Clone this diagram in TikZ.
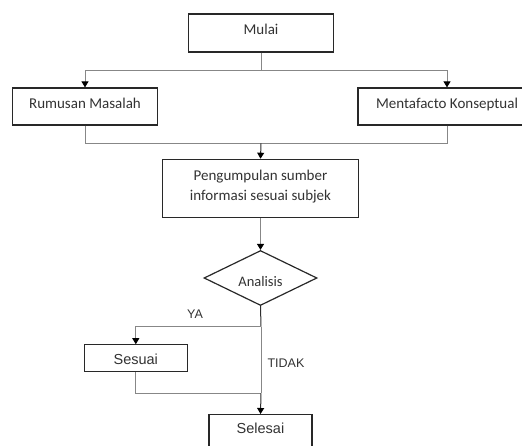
\documentclass[tikz,border=0pt]{standalone}
\usepackage{fontspec}
\setmainfont{Carlito}
\newfontfamily\arialf{Liberation Sans}
\usetikzlibrary{arrows.meta,shapes.geometric}
\definecolor{connc}{RGB}{135,135,135}
\definecolor{darkc}{RGB}{45,45,45}
\definecolor{edgec}{RGB}{40,40,40}
\definecolor{txtc}{RGB}{50,50,50}
\begin{document}
\begin{tikzpicture}[x=1pt,y=-1pt,
  box/.style={draw=edgec, line width=1.2pt, rectangle, inner sep=0pt, text=txtc,
    font=\fontsize{15}{20}\selectfont},
  cbox/.style={box, text depth=7pt},
  abox/.style={box, font=\arialf\fontsize{14.5}{18}\selectfont},
  dia/.style={shape=diamond, draw=edgec, line width=1.2pt, inner sep=0pt, aspect=2.05,
    minimum width=113pt, minimum height=55pt, text=txtc, text height=18pt,
    font=\fontsize{14.5}{18}\selectfont},
  lbl/.style={text=txtc, inner sep=0pt, font=\arialf\fontsize{12.5}{15}\selectfont},
  conn/.style={draw=connc, line width=0.9pt},
  dconn/.style={draw=darkc, line width=1pt},
  tip/.style={-{Triangle[width=7pt,length=6pt,color=black]}}]
\useasboundingbox (0,0) rectangle (522,446);
\clip (0,0) rectangle (522,446);

\node[cbox, minimum width=145pt, minimum height=38pt] (mulai) at (261,33) {Mulai};
\node[cbox, minimum width=145pt, minimum height=37pt] (rumusan) at (85,106.5) {Rumusan Masalah};
\node[cbox, minimum width=178pt, minimum height=37pt] (menta) at (447,106.5) {Mentafacto Konseptual};
\node[box, minimum width=196pt, minimum height=58pt, align=center] (peng) at (260.5,188.3) {Pengumpulan sumber\\informasi sesuai subjek\\[-14pt]};
\node[dia] (analisis) at (260.5,278) {Analisis};
\node[abox, minimum width=103pt, minimum height=27pt, text height=13pt] (sesuai) at (135.8,358.3) {Sesuai};
\node[box, minimum width=103pt, minimum height=44pt, anchor=north] (selesai) at (260.5,414) {};
\node[lbl, font=\arialf\fontsize{14.5}{18}\selectfont] (selesaitxt) at (260.5,428.5) {Selesai};

\coordinate (split) at (261,70);
\coordinate (merge) at (261,143.3);
\coordinate (branch) at (261,326.7);
\coordinate (join) at (261,393.3);

\draw[conn] (mulai.south) -- (split);
\draw[conn, tip] (split) -| (rumusan.north);
\draw[conn, tip] (split) -| (menta.north);
\draw[conn] (rumusan.south) |- (merge);
\draw[conn] (menta.south) |- (merge);
\draw[dconn, tip] (merge) -- (peng.north);
\draw[conn, tip] (peng.south) -- (analisis.north);
\draw[dconn] (analisis.south) -- (branch);
\draw[conn, tip] (branch) -| (sesuai.north);
\draw[conn] (branch) -- (join);
\draw[conn] (sesuai.south) |- (join);
\draw[dconn, tip] (join) -- (selesai.north);

\node[lbl] (ya) at (195,314) {YA};
\node[lbl] (tidak) at (286,363) {TIDAK};
\end{tikzpicture}
\end{document}
